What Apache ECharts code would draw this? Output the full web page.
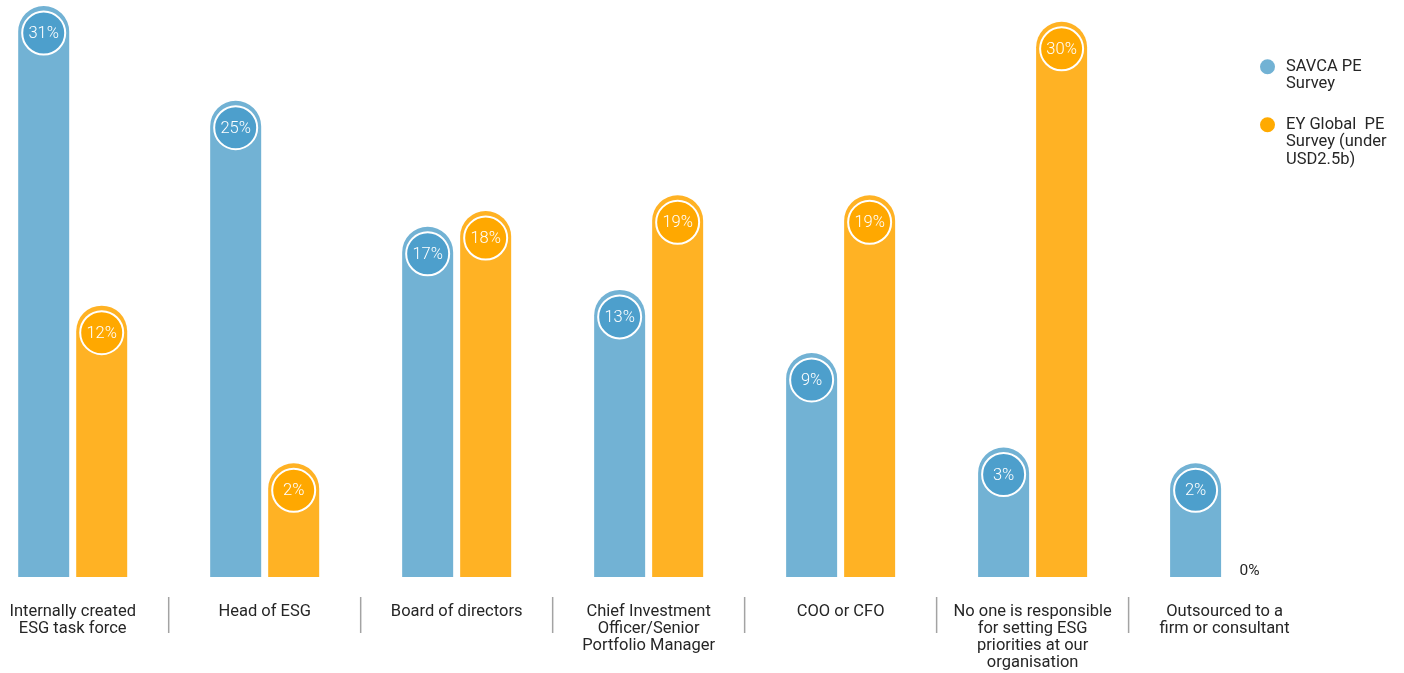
<!DOCTYPE html>
<html>
<head>
<meta charset="utf-8">
<title>Who sets ESG priorities</title>
<script src="https://cdn.jsdelivr.net/npm/echarts@6/dist/echarts.min.js"></script>
<style>
  html, body { margin: 0; padding: 0; background: #ffffff; }
  #chart { width: 1404px; height: 673px; }
</style>
</head>
<body>
<div id="chart"></div>
<script>
// Categories shown along the bottom (line breaks as typeset)
const categories = [
  'Internally created\nESG task force',
  'Head of ESG',
  'Board of directors',
  'Chief Investment\nOfficer/Senior\nPortfolio Manager',
  'COO or CFO',
  'No one is responsible\nfor setting ESG\npriorities at our\norganisation',
  'Outsourced to a\nfirm or consultant'
];

// Share of respondents, in percent
const savcaValues = [31, 25, 17, 13, 9, 3, 2];
const eyValues = [12, 2, 18, 19, 19, 30, 0];

// Series names and their legend text lines
const savcaName = 'SAVCA PE Survey';
const eyName = 'EY Global  PE Survey (under USD2.5b)';
const savcaLegendLines = ['SAVCA PE', 'Survey'];
const eyLegendLines = ['EY Global  PE', 'Survey (under', 'USD2.5b)'];

// Styling
const FONT = 'Roboto, "Liberation Sans", sans-serif';
const TEXT_COLOR = '#262626';
const COLORS = {
  savca: { bar: '#72b2d4', dot: '#4d9fcc', legend: '#72b2d4' },
  ey: { bar: '#ffb224', dot: '#ffa800', legend: '#ffaa00' }
};
const BAR_W = 51;      // bar width in px
const BAR_GAP = 7;     // gap between the paired bars
const CAP = 27;        // distance from a bar's top to its value bubble centre
const DOT_R = 21.5;    // value bubble radius
const Y_MIN = -3.5;
const Y_MAX = 33.1;

// Draws one rounded bar with its value bubble; side -1 = left, +1 = right
function makeBarRenderer(side, palette) {
  return function (params, api) {
    const cat = api.value(0);
    const v = api.value(1);
    const mid = api.coord([cat, 0])[0];
    const x = side < 0 ? mid - BAR_GAP / 2 - BAR_W : mid + BAR_GAP / 2;
    const cx = x + BAR_W / 2;
    const base = api.coord([cat, Y_MIN])[1];
    if (v === 0) {
      return {
        type: 'text',
        x: cx - 4,
        y: base + 2,
        style: {
          text: v + '%', fill: TEXT_COLOR, font: '15.5px ' + FONT,
          align: 'center', verticalAlign: 'bottom'
        }
      };
    }
    const cy = api.coord([cat, v])[1];
    const top = cy - CAP;
    return {
      type: 'group',
      children: [
        {
          type: 'rect',
          shape: { x: x, y: top, width: BAR_W, height: base - top, r: [BAR_W / 2, BAR_W / 2, 0, 0] },
          style: { fill: palette.bar }
        },
        {
          type: 'circle',
          shape: { cx: cx, cy: cy, r: DOT_R },
          style: { fill: palette.dot, stroke: '#ffffff', lineWidth: 2 }
        },
        {
          type: 'text',
          x: cx,
          y: cy + 1,
          style: {
            text: v + '%', fill: '#ffffff', font: '300 16.5px ' + FONT,
            align: 'center', verticalAlign: 'middle'
          }
        }
      ]
    };
  };
}

// Thin separators between category labels
function renderDivider(params, api) {
  const cat = api.value(0);
  if (cat === 0) return null;
  const band = api.size([1, 0])[0];
  const x = api.coord([cat, 0])[0] - band / 2;
  const base = api.coord([cat, Y_MIN])[1];
  return {
    type: 'line',
    shape: { x1: x, y1: base + 20, x2: x, y2: base + 56 },
    style: { stroke: '#a3a3a3', lineWidth: 1.5 }
  };
}

// Legend text: leading blank lines keep the marker level with the first line
function legendText(lines) {
  return '\n'.repeat(lines.length - 1) + lines.join('\n');
}

function legendOption(name, lines, color, top) {
  return {
    data: [{ name: name, itemStyle: { color: color } }],
    orient: 'vertical',
    left: 1260,
    top: top,
    padding: 0,
    icon: 'circle',
    itemWidth: 27,
    itemHeight: 15,
    selectedMode: false,
    formatter: function () { return legendText(lines); },
    textStyle: { fontSize: 16.5, lineHeight: 17.5, color: TEXT_COLOR, fontFamily: FONT }
  };
}

const chart = echarts.init(document.getElementById('chart'), null, { renderer: 'canvas' });

chart.setOption({
  backgroundColor: '#ffffff',
  animation: false,
  grid: { left: 72.7, right: 179.4, top: 0, bottom: 96 },
  legend: [
    legendOption(savcaName, savcaLegendLines, COLORS.savca.legend, 40.5),
    legendOption(eyName, eyLegendLines, COLORS.ey.legend, 81)
  ],
  xAxis: {
    type: 'category',
    data: categories,
    boundaryGap: false,
    axisLine: { show: false },
    axisTick: { show: false },
    splitLine: { show: false },
    axisLabel: {
      interval: 0,
      margin: 26,
      fontSize: 16.5,
      lineHeight: 17,
      color: TEXT_COLOR,
      fontFamily: FONT,
      align: 'center'
    }
  },
  yAxis: {
    type: 'value',
    min: Y_MIN,
    max: Y_MAX,
    show: false,
    splitLine: { show: false }
  },
  series: [
    {
      name: savcaName,
      type: 'custom',
      clip: false,
      itemStyle: { color: COLORS.savca.bar },
      renderItem: makeBarRenderer(-1, COLORS.savca),
      data: savcaValues.map(function (v, i) { return [i, v]; })
    },
    {
      name: eyName,
      type: 'custom',
      clip: false,
      itemStyle: { color: COLORS.ey.bar },
      renderItem: makeBarRenderer(1, COLORS.ey),
      data: eyValues.map(function (v, i) { return [i, v]; })
    },
    {
      name: 'dividers',
      type: 'custom',
      clip: false,
      silent: true,
      renderItem: renderDivider,
      data: categories.map(function (c, i) { return [i, 0]; })
    }
  ]
});
</script>
</body>
</html>
